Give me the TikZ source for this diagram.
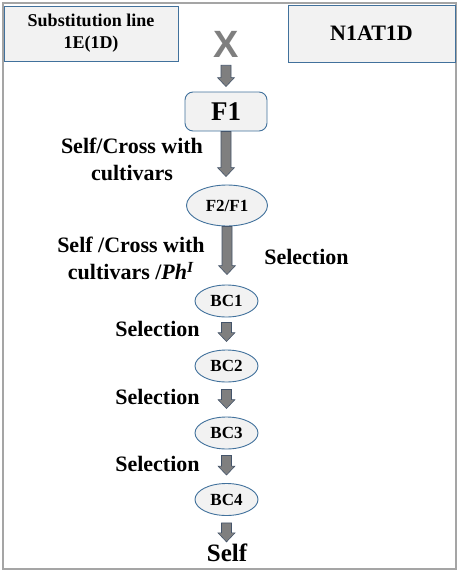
\documentclass[tikz,border=0pt]{standalone}
\usepackage{fontspec}
\setmainfont{Liberation Serif}[BoldFont={Liberation Serif Bold},ItalicFont={Liberation Serif Italic},BoldItalicFont={Liberation Serif Bold Italic}]
\newfontfamily\xsans{Liberation Sans}
\usetikzlibrary{calc,shapes.geometric}
\definecolor{boxfill}{HTML}{F2F2F2}
\definecolor{boxline}{HTML}{41719C}
\definecolor{arrfill}{HTML}{7F7F7F}
\definecolor{arrline}{HTML}{44546A}
\definecolor{framegray}{HTML}{A5A5A5}
\newcommand{\blockarrow}[2]{%
  \path[blockarr] let \p1=#1, \p2=#2 in
    (\x1-5pt,\y1) -- (\x1+5pt,\y1) -- (\x1+5pt,\y2+9pt) -- (\x1+8.5pt,\y2+9pt)
    -- (\x1,\y2) -- (\x1-8.5pt,\y2+9pt) -- (\x1-5pt,\y2+9pt) -- cycle;}
\begin{document}
\begin{tikzpicture}[x=1pt,y=-1pt,
  lbl/.style={font=\rmfamily\bfseries\fontsize{22}{27}\selectfont, align=center, inner sep=0pt},
  topbox/.style={draw=boxline, fill=boxfill, line width=0.9pt, inner sep=0pt},
  ell/.style={ellipse, draw=boxline, fill=boxfill, line width=0.9pt, inner sep=0pt,
    font=\rmfamily\bfseries\fontsize{17}{20}\selectfont},
  blockarr/.style={fill=arrfill, draw=arrline, line width=0.6pt}]
\useasboundingbox (0,0) rectangle (459,573);
\draw[framegray, line width=1.5pt] (3,3) rectangle (456,569);
\node[topbox, minimum width=174pt, minimum height=55pt, align=center,
  font=\rmfamily\bfseries\fontsize{18}{22}\selectfont] (sub) at (91,33.5) {Substitution line\\1E(1D)};
\node[topbox, minimum width=167pt, minimum height=57pt,
  font=\rmfamily\bfseries\fontsize{22}{26}\selectfont] (nat) at (371.5,33.5) {N1AT1D};
\node[font=\xsans\bfseries\fontsize{38}{40}\selectfont, text=arrfill, inner sep=0pt] (x) at (226,44) {X};
\node[topbox, rounded corners=8pt, minimum width=82pt, minimum height=39pt,
  font=\rmfamily\bfseries\fontsize{27}{30}\selectfont] (f1) at (226,111.5) {F1};
\node[ell, minimum width=81pt, minimum height=41pt] (f2) at (227,205.5) {F2/F1};
\node[ell, minimum width=63pt, minimum height=32pt] (bc1) at (226.5,301) {BC1};
\node[ell, minimum width=63pt, minimum height=32pt] (bc2) at (226.5,366) {BC2};
\node[ell, minimum width=63pt, minimum height=32pt] (bc3) at (226.5,433) {BC3};
\node[ell, minimum width=63pt, minimum height=32pt] (bc4) at (226.5,499.5) {BC4};
\node[font=\rmfamily\bfseries\fontsize{25}{28}\selectfont, inner sep=0pt] (self) at (227,553) {Self};
\node[lbl] (t1) at (132,159) {Self/Cross with\\cultivars};
\node[lbl] (t2) at (131,258.5) {Self /Cross with\\cultivars /\textit{Ph}\textsuperscript{\textit{I}}};
\node[lbl] (s0) at (306.5,257) {Selection};
\node[lbl] (s1) at (157.5,329) {Selection};
\node[lbl] (s2) at (157.5,397) {Selection};
\node[lbl] (s3) at (157.5,464) {Selection};
\blockarrow{([yshift=-8pt]x.south)}{([yshift=5pt]f1.north)}
\blockarrow{(f1.south)}{([yshift=8pt]f2.north)}
\blockarrow{(f2.south)}{([yshift=10pt]bc1.north)}
\blockarrow{([yshift=-5pt]bc1.south)}{([yshift=8pt]bc2.north)}
\blockarrow{([yshift=-7pt]bc2.south)}{([yshift=8pt]bc3.north)}
\blockarrow{([yshift=-6pt]bc3.south)}{([yshift=8pt]bc4.north)}
\blockarrow{([yshift=-7pt]bc4.south)}{([yshift=2pt]self.north)}
\end{tikzpicture}
\end{document}
